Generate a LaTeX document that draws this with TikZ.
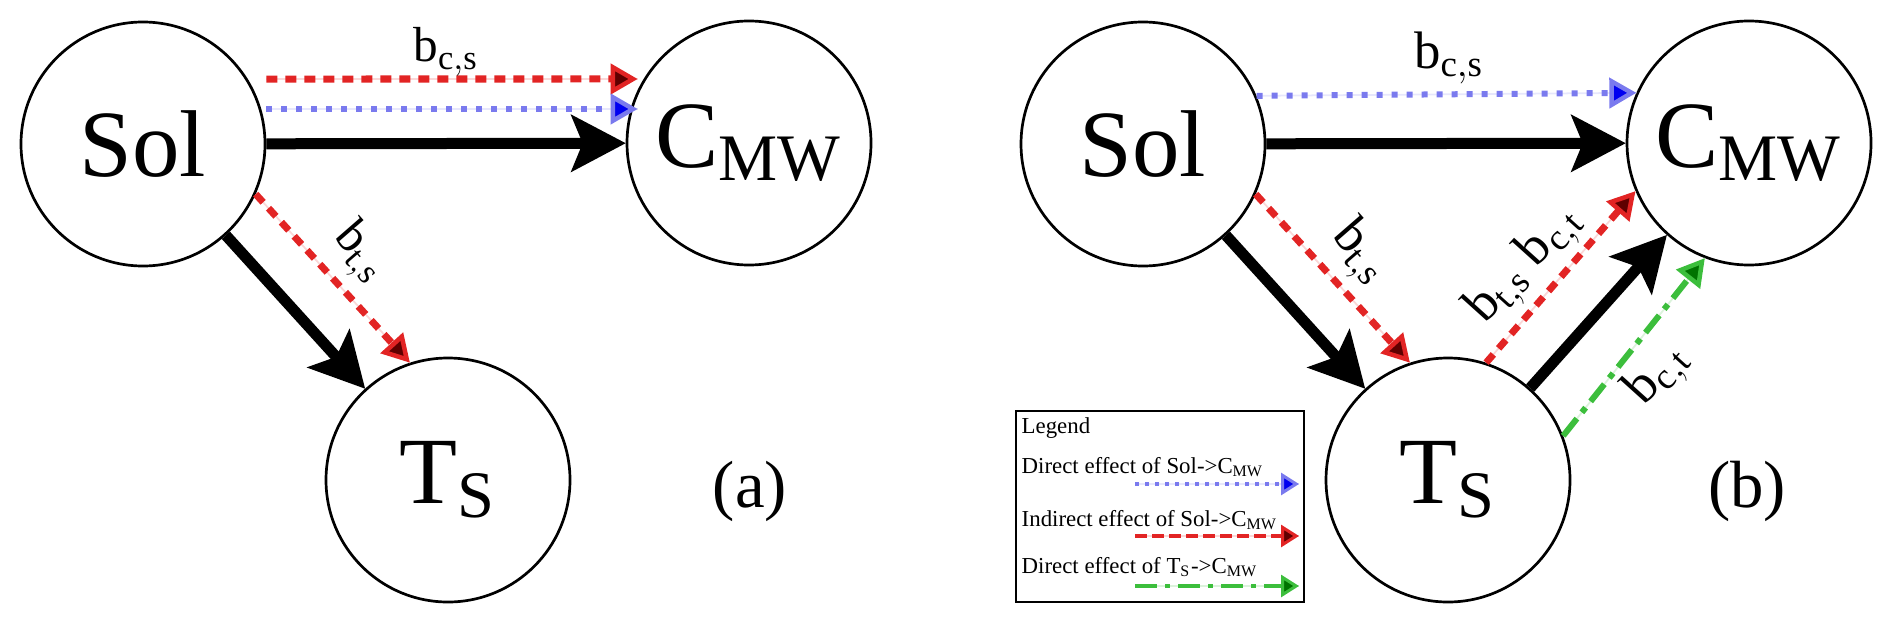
\documentclass[tikz,border=0pt]{standalone}
\usepackage{fontspec}
\setmainfont{Liberation Serif}
\usetikzlibrary{arrows.meta}
\definecolor{effred}{RGB}{226,36,36}
\definecolor{effredd}{RGB}{95,0,0}
\definecolor{effblue}{RGB}{122,122,238}
\definecolor{effblued}{RGB}{0,0,240}
\definecolor{effgreen}{RGB}{60,190,60}
\definecolor{effgreend}{RGB}{0,115,0}
\begin{document}
\begin{tikzpicture}[
    var/.style={circle, draw, line width=0.027cm, minimum size=2.44cm, inner sep=0pt, font=\fontsize{27}{30}\selectfont},
    coef/.style={font=\fontsize{14}{16}\selectfont, inner sep=1pt},
    coefb/.style={font=\fontsize{15}{17}\selectfont, inner sep=1pt},
    total/.style={line width=0.11cm, -{Stealth[length=0.55cm,width=0.58cm,inset=0.12cm,line width=0.4pt]}},
    indirect/.style={effred, line width=0.07cm, dash pattern=on 0.11cm off 0.08cm,
        -{Triangle[length=0.27cm,width=0.3cm,fill=effredd,line width=0.045cm]},
        preaction={draw,-,solid,line width=0.5pt,effred!18}},
    direct/.style={effblue, line width=0.06cm, dash pattern=on 0.06cm off 0.09cm,
        -{Triangle[length=0.27cm,width=0.3cm,fill=effblued,line width=0.045cm]},
        preaction={draw,-,solid,line width=0.5pt,effblue!18}},
    tdirect/.style={effgreen, line width=0.06cm, dash pattern=on 0.22cm off 0.08cm on 0.06cm off 0.08cm,
        -{Triangle[length=0.27cm,width=0.3cm,fill=effgreend,line width=0.045cm]},
        preaction={draw,-,solid,line width=0.5pt,effgreen!18}},
    ldirect/.style={direct, line width=0.035cm, dash pattern=on 0.04cm off 0.06cm,
        -{Triangle[length=0.18cm,width=0.22cm,fill=effblued,line width=0.03cm]}},
    lindirect/.style={indirect, line width=0.04cm, dash pattern=on 0.12cm off 0.05cm,
        -{Triangle[length=0.18cm,width=0.22cm,fill=effredd,line width=0.03cm]}},
    ltdirect/.style={tdirect, line width=0.04cm, dash pattern=on 0.22cm off 0.08cm on 0.05cm off 0.08cm,
        -{Triangle[length=0.18cm,width=0.22cm,fill=effgreend,line width=0.03cm]}},
    legtext/.style={font=\fontsize{6.5}{8}\selectfont, anchor=west, inner sep=0pt}
]
\useasboundingbox (0,0) rectangle (18.92,6.23);

% (a)
\node[var] (sola) at (1.43,4.79) {Sol};
\node[var] (cmwa) at (7.49,4.80) {C$_{\mathrm{MW}}$};
\node[var] (tsa) at (4.48,1.43) {T$_{\mathrm{S}}$};
\draw[total] (sola) -- (cmwa);
\draw[total] (sola) -- (tsa);
\draw[indirect] ([yshift=0.65cm]sola.east) -- ([xshift=0.12cm,yshift=0.64cm]cmwa.west);
\draw[direct] ([yshift=0.35cm]sola.east) -- ([xshift=0.12cm,yshift=0.34cm]cmwa.west);
\draw[indirect] (sola.336.2) -- (tsa.108.2);
\node[coef] (bcsa) at (4.46,5.71) {b$_{\mathrm{c,s}}$};
\node[coef, rotate=-49] (btsa) at (3.60,3.70) {b$_{\mathrm{t,s}}$};
\node[font=\fontsize{19}{22}\selectfont] (taga) at (7.50,1.32) {(a)};

% (b)
\node[var] (solb) at (11.43,4.79) {Sol};
\node[var] (cmwb) at (17.49,4.80) {C$_{\mathrm{MW}}$};
\node[var] (tsb) at (14.48,1.43) {T$_{\mathrm{S}}$};
\draw[total] (solb) -- (cmwb);
\draw[total] (solb) -- (tsb);
\draw[total] (tsb) -- (cmwb);
\draw[direct] (solb.23.5) -- (cmwb.156.5);
\draw[indirect] (solb.336.2) -- (tsb.108.2);
\draw[indirect] (tsb.72.6) -- (cmwb.203);
\draw[tdirect] (tsb.21.9) -- (cmwb.249);
\node[coefb] (bcsb) at (14.49,5.65) {b$_{\mathrm{c,s}}$};
\node[coefb, rotate=-49] (btsb) at (13.60,3.70) {b$_{\mathrm{t,s}}$};
\node[coefb, rotate=48] (btcb) at (15.25,3.58) {b$_{\mathrm{t,s}}$ b$_{\mathrm{c,t}}$};
\node[coefb, rotate=48] (bctb) at (16.58,2.48) {b$_{\mathrm{c,t}}$};
\node[font=\fontsize{19}{22}\selectfont] (tagb) at (17.47,1.32) {(b)};

% legend
\node[draw, line width=0.02cm, minimum width=2.88cm, minimum height=1.91cm, anchor=south west, inner sep=0pt] (legend) at (10.15,0.20) {};
\node[legtext] (legt) at (10.21,1.95) {Legend};
\node[legtext] (leg1) at (10.21,1.56) {Direct effect of Sol->C$_{\mathrm{MW}}$};
\node[legtext] (leg2) at (10.21,1.03) {Indirect effect of Sol->C$_{\mathrm{MW}}$};
\node[legtext] (leg3) at (10.21,0.56) {Direct effect of T$_{\mathrm{S}}$->C$_{\mathrm{MW}}$};
\coordinate (l1s) at (11.35,1.39);
\coordinate (l1e) at (12.99,1.39);
\coordinate (l2s) at (11.35,0.87);
\coordinate (l2e) at (12.99,0.87);
\coordinate (l3s) at (11.35,0.37);
\coordinate (l3e) at (12.99,0.37);
\draw[ldirect] (l1s) -- (l1e);
\draw[lindirect] (l2s) -- (l2e);
\draw[ltdirect] (l3s) -- (l3e);
\end{tikzpicture}
\end{document}
